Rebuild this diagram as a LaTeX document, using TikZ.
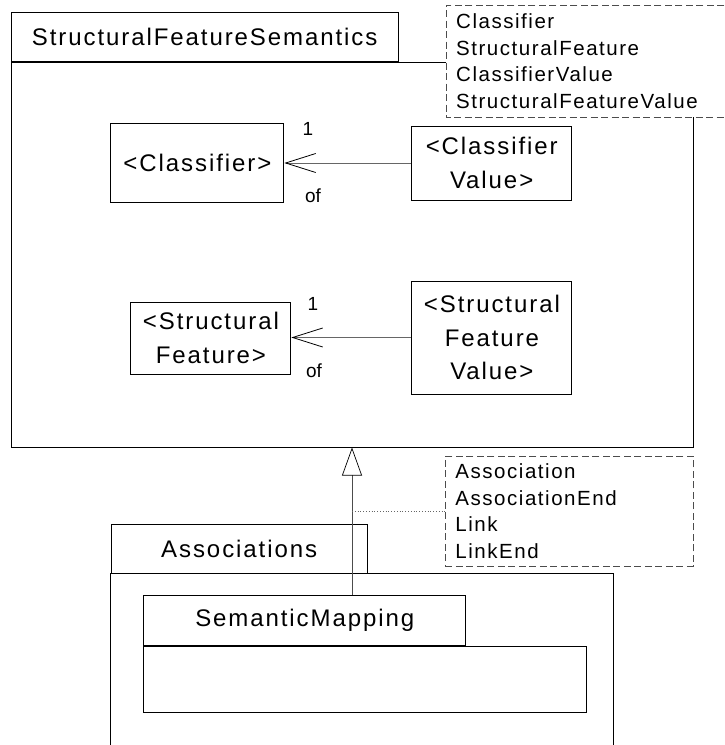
\documentclass[tikz,border=0pt]{standalone}
\usepackage{fontspec}
\setmainfont{Liberation Sans}
\newfontfamily\umlfont{Liberation Sans}[LetterSpace=8]
\newfontfamily\notefont{Liberation Sans}[LetterSpace=7.5]
\usetikzlibrary{arrows.meta,positioning}

\begin{document}
\begin{tikzpicture}[x=1pt, y=-1pt,
    tab/.style={draw, line width=0.9pt, anchor=north west, inner sep=0pt, font=\umlfont\fontsize{24}{33}\selectfont},
    body/.style={draw, line width=0.9pt, anchor=north west, inner sep=0pt},
    cls/.style={draw, line width=0.9pt, inner sep=0pt, align=center, font=\umlfont\fontsize{24}{33.5}\selectfont},
    note/.style={anchor=north west, inner xsep=10pt, inner ysep=0pt, align=left, font=\notefont\fontsize{20.5}{26.7}\selectfont},
    notebd/.style={draw=black!70, dash pattern=on 7pt off 3.5pt, line width=0.9pt},
    assoc/.style={draw=black!60, line width=0.9pt, -{Straight Barb[length=30pt,width=19pt,line width=0.8pt,color=black]}},
    mult/.style={font=\fontsize{19}{20}\selectfont, inner sep=0pt},
    gen/.style={draw=black!70, line width=0.7pt, -{Triangle[open,length=28pt,width=20pt,fill=white,color=black]}},
]
    \useasboundingbox (0,0) rectangle (724,745);

    % package StructuralFeatureSemantics
    \node[tab, minimum width=387pt, minimum height=49pt] (sfstab) at (10.7,11.7) {StructuralFeatureSemantics};
    \node[body, minimum width=682pt, minimum height=385pt] (sfs) at (sfstab.south west) {};
    \node[note, fill=white, text width=258pt, minimum height=112pt] (notea) at (446,5) {Classifier\\StructuralFeature\\ClassifierValue\\StructuralFeatureValue};
    \draw[notebd] (notea.north east) -- (notea.north west) -- (notea.south west) -- (notea.south east);

    % classes
    \node[cls, minimum width=173pt, minimum height=79pt] (clsf) at (197.4,162.5) {<Classifier>};
    \node[cls, minimum width=160pt, minimum height=74pt] (clsfval) at (491.7,163) {<Classifier\\Value>};
    \node[cls, minimum width=160pt, minimum height=72pt] (sfeat) at (210.9,338) {<Structural\\Feature>};
    \node[cls, minimum width=160pt, minimum height=113pt] (sfeatval) at (491.9,337.5) {<Structural\\Feature\\Value>};

    \draw[assoc] (clsfval.west) -- (clsfval.west -| clsf.east);
    \draw[assoc] (sfeatval.west) -- (sfeatval.west -| sfeat.east);

    \node[mult] (mclsf) at (308,129) {1};
    \node[mult] (ofclsf) at (313,196) {of};
    \node[mult] (msfeat) at (313,304) {1};
    \node[mult] (ofsfeat) at (314,371) {of};

    % package Associations
    \node[tab, minimum width=256pt, minimum height=49pt] (assoctab) at (110.7,524) {Associations};
    \node[body, draw=none, minimum width=502pt, minimum height=174pt] (assocpkg) at (assoctab.south west) {};
    \draw[line width=0.9pt] (assocpkg.south west) -- (assocpkg.north west) -- (assocpkg.north east) -- (assocpkg.south east);

    \node[tab, minimum width=322pt, minimum height=50pt] (smtab) at (143.3,595) {SemanticMapping};
    \node[body, minimum width=442.5pt, minimum height=65.7pt] (sm) at (smtab.south west) {};

    % generalization and note
    \coordinate (genfoot) at (352,595);
    \draw[gen] (genfoot) -- (genfoot |- sfs.south);

    \node[note, notebd, text width=227.7pt, minimum height=110pt] (noteb) at (445,455.7) {Association\\AssociationEnd\\Link\\LinkEnd};
    \draw[dotted, line width=0.8pt, black!60] (genfoot |- noteb.west) -- (noteb.west);
\end{tikzpicture}
\end{document}
